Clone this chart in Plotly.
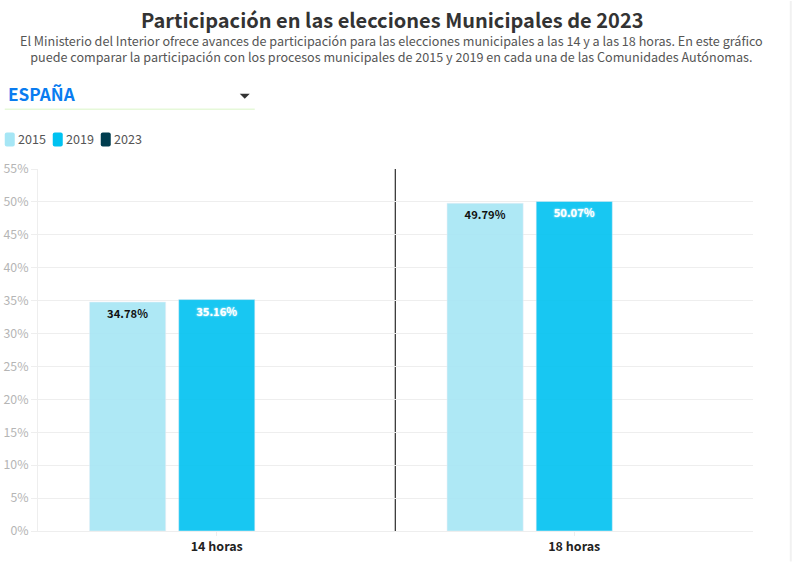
import plotly.graph_objects as go

FONT = "Noto Sans CJK SC"
W, H = 792, 562
L, R, T, B = 38.25, 753.25, 168.5, 531.5

categories = ["14 horas", "18 horas"]
years = ["2015", "2019", "2023"]
values_2015 = [34.78, 49.79]
values_2019 = [35.16, 50.07]
values_2023 = [None, None]
y_ticks = [0, 5, 10, 15, 20, 25, 30, 35, 40, 45, 50, 55]
colors = ["#A6E6F5", "#00C2F1", "#003D4F"]
label_colors = ["#111111", "#FFFFFF", "#FFFFFF"]
label_shadows = ["none", "0px 0px 2px #FFFFFF", "none"]


def px(x):
    return (x - L) / (R - L)


def py(y):
    return (B - y) / (B - T)


def round_rect(x0, y0, x1, y1, r):
    # rounded swatch, pixel coordinates turned into paper ones
    return (
        f"M {px(x0 + r)} {py(y0)} L {px(x1 - r)} {py(y0)} "
        f"Q {px(x1)} {py(y0)} {px(x1)} {py(y0 + r)} L {px(x1)} {py(y1 - r)} "
        f"Q {px(x1)} {py(y1)} {px(x1 - r)} {py(y1)} L {px(x0 + r)} {py(y1)} "
        f"Q {px(x0)} {py(y1)} {px(x0)} {py(y1 - r)} L {px(x0)} {py(y0 + r)} "
        f"Q {px(x0)} {py(y0)} {px(x0 + r)} {py(y0)} Z"
    )


fig = go.Figure()
for year, vals, color, label_color, shadow in zip(
    years, [values_2015, values_2019, values_2023], colors, label_colors, label_shadows
):
    fig.add_trace(
        go.Bar(
            x=categories,
            y=vals,
            name=year,
            marker_color=color,
            marker_opacity=0.9,
            text=[f"{v:.2f}%" if v is not None else "" for v in vals],
            textposition="inside",
            insidetextanchor="end",
            textangle=0,
            textfont=dict(
                family=FONT, size=11.2, color=label_color, weight="bold", shadow=shadow
            ),
            showlegend=False,
        )
    )

shapes = [
    # divider between the two hours, under the gridlines like the original
    dict(
        type="line", xref="paper", yref="paper", layer="below",
        x0=px(395.5), x1=px(395.5), y0=0, y1=1,
        line=dict(color="#000000", width=1),
    ),
    # dropdown underline
    dict(
        type="line", xref="paper", yref="paper",
        x0=px(5), x1=px(255), y0=py(108.5), y1=py(108.5),
        line=dict(color="#D9F5C5", width=1),
    ),
    # dropdown arrow
    dict(
        type="path", xref="paper", yref="paper",
        path=f"M {px(240)} {py(93)} L {px(250)} {py(93)} L {px(245)} {py(98)} Z",
        fillcolor="#333333", line=dict(width=0),
    ),
    # page scrollbar edge
    dict(
        type="rect", xref="paper", yref="paper",
        x0=px(790), x1=px(792), y0=py(0), y1=py(562),
        fillcolor="#F1F1F1", line=dict(width=0),
    ),
]

annotations = [
    dict(
        text="<b>Participación en las elecciones Municipales de 2023</b>",
        x=px(392), y=py(19), font=dict(size=20, color="#333333"),
    ),
    dict(
        text="El Ministerio del Interior ofrece avances de participación para las elecciones municipales a las 14 y a las 18 horas. En este gráfico<br>"
        "puede comparar la participación con los procesos municipales de 2015 y 2019 en cada una de las Comunidades Autónomas.",
        x=px(392), y=py(48), font=dict(size=12.6, color="#555555"),
    ),
    dict(
        text="<b>ESPAÑA</b>", x=px(6), y=py(92.5), xanchor="left",
        font=dict(size=17.2, color="#0A7CF0"),
    ),
]

# legend drawn by hand: rounded swatches sit tight against the labels
for i, (year, color) in enumerate(zip(years, colors)):
    x0 = 5 + 48 * i
    shapes.append(
        dict(
            type="path", xref="paper", yref="paper",
            path=round_rect(x0, 132, x0 + 10, 146, 2),
            fillcolor=color, line=dict(width=0),
        )
    )
    annotations.append(
        dict(
            text=year, x=px(x0 + 11), y=py(137.5), xanchor="left",
            font=dict(size=12.6, color="#555555"),
        )
    )

for a in annotations:
    a.update(xref="paper", yref="paper", showarrow=False, yanchor="middle")
    a["font"]["family"] = FONT
    a.setdefault("xanchor", "center")

fig.update_layout(
    width=W,
    height=H,
    margin=dict(l=L, r=W - R, t=T, b=H - B, pad=0),
    paper_bgcolor="#FFFFFF",
    plot_bgcolor="rgba(0,0,0,0)",
    barmode="group",
    bargap=0.252,
    bargroupgap=0.146,
    font=dict(family=FONT),
    shapes=shapes,
    annotations=annotations,
)
fig.update_xaxes(
    automargin=False,
    showgrid=False,
    showline=True,
    linecolor="#EEEEEE",
    ticks="outside",
    ticklen=4,
    tickcolor="#EEEEEE",
    tickfont=dict(family=FONT, size=12.5, color="#222222", weight="bold"),
)
fig.update_yaxes(
    automargin=False,
    range=[0, 55],
    tickvals=y_ticks,
    ticktext=[f"{t}%" for t in y_ticks],
    showgrid=True,
    gridcolor="#EEEEEE",
    gridwidth=1,
    zeroline=False,
    showline=True,
    linecolor="#EEEEEE",
    ticks="outside",
    ticklen=6,
    tickcolor="#EEEEEE",
    tickfont=dict(family=FONT, size=12.3, color="#B5B5B5"),
)

# the page's default body margin would push the chart 8px off
fig.write_html(
    "out.html",
    config=dict(displayModeBar=False),
    post_script="document.body.style.margin='0';",
)
